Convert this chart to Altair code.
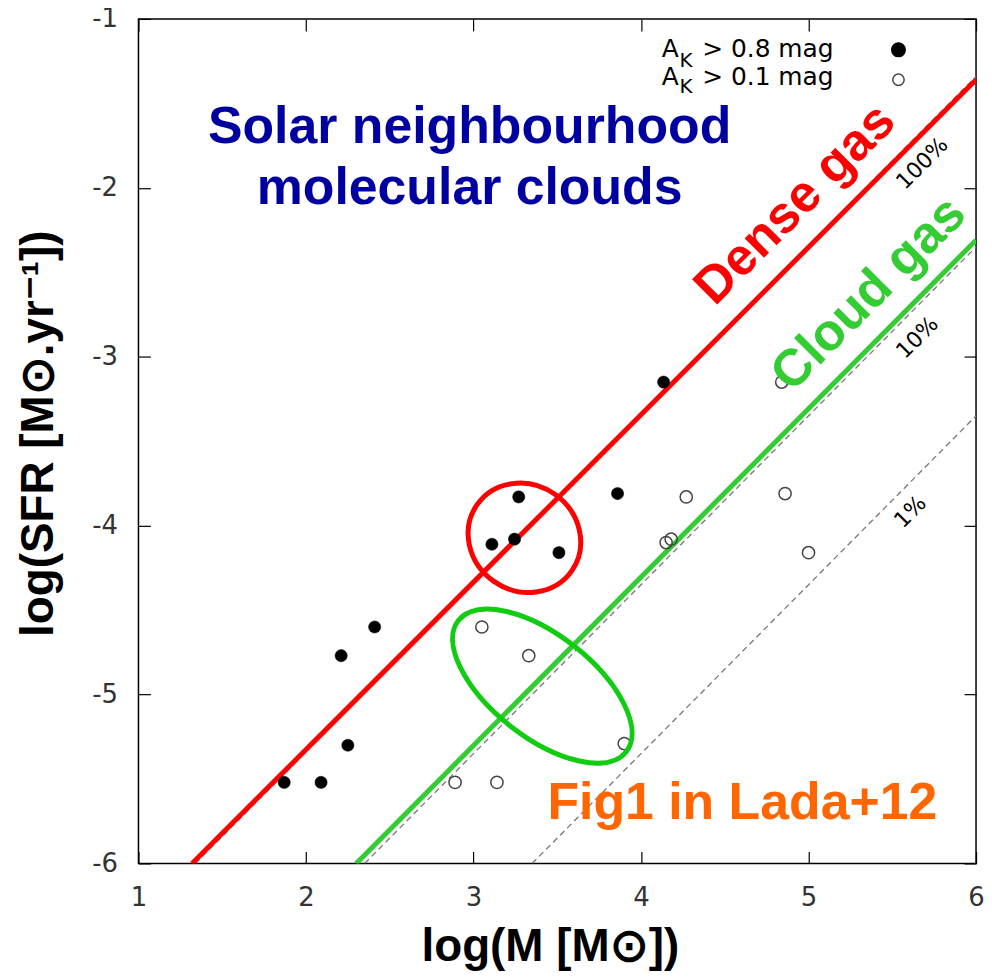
import altair as alt
import pandas as pd

# ---- data ----
filled_x = [1.87, 2.09, 2.25, 2.21, 2.41, 3.11, 3.245, 3.27, 3.51, 3.86, 4.135]
filled_y = [-5.52, -5.52, -5.30, -4.77, -4.60, -4.11, -4.08, -3.83, -4.16, -3.81, -3.15]
open_x = [2.89, 3.14, 3.05, 3.33, 3.90, 4.15, 4.18, 4.27, 4.84, 4.86, 5.00]
open_y = [-5.52, -5.52, -4.60, -4.77, -5.29, -4.10, -4.08, -3.83, -3.15, -3.81, -4.16]

dense_x, dense_y = [1.32, 6.0], [-6.0, -1.36]
cloud_x, cloud_y = [2.30, 6.0], [-6.0, -2.31]
eff100_x, eff100_y = [1.34, 6.0], [-6.0, -1.34]
eff10_x, eff10_y = [2.35, 6.0], [-6.0, -2.35]
eff1_x, eff1_y = [3.35, 6.0], [-6.0, -3.35]

x_ticks = [1, 2, 3, 4, 5, 6]
y_ticks = [-6, -5, -4, -3, -2, -1]

xs = alt.Scale(domain=[1, 6], nice=False, zero=False)
ys = alt.Scale(domain=[-6, -1], nice=False, zero=False)

common_axis = dict(tickSize=12, offset=-12, domain=False, grid=False,
                   tickColor="black", tickWidth=1.2,
                   labelFont="DejaVu Sans", labelFontSize=26, labelColor="#333333",
                   labelPadding=21, labelFlush=False, labelOverlap=False,
                   labelExpr="'' + datum.value",
                   titleFont="Liberation Sans", titleFontSize=46, titleFontWeight="bold",
                   titleColor="black", titleBaseline="alphabetic", titleAlign="center")

x_axis = alt.Axis(orient="bottom", values=x_ticks, title="log(M [M⊙])",
                  titleX=413, titleY=109, **common_axis)
y_axis = alt.Axis(orient="left", values=y_ticks, title="log(SFR [M⊙.yr⁻¹])",
                  titleAngle=270, titleX=-98, titleY=416, **common_axis)
x_axis_top = alt.Axis(orient="top", values=x_ticks, labels=False, title=None,
                      tickSize=12, offset=-12, domain=False, grid=False,
                      tickColor="black", tickWidth=1.2)
y_axis_right = alt.Axis(orient="right", values=y_ticks, labels=False, title=None,
                        tickSize=12, offset=-12, domain=False, grid=False,
                        tickColor="black", tickWidth=1.2)

X = alt.X("x:Q", scale=xs, axis=x_axis)
Y = alt.Y("y:Q", scale=ys, axis=y_axis)


def df(xv, yv, **extra):
    d = {"x": xv, "y": yv}
    d.update(extra)
    return pd.DataFrame(d)


def line(xv, yv, color, width, dash=None):
    kw = dict(color=color, strokeWidth=width, clip=True)
    if dash:
        kw["strokeDash"] = dash
    return alt.Chart(df(xv, yv)).mark_line(**kw).encode(x=X, y=Y)


def text(xv, yv, label, **kw):
    return alt.Chart(df([xv], [yv], t=[label])).mark_text(**kw).encode(x=X, y=Y, text="t:N")


l100 = line(eff100_x, eff100_y, "#777777", 1.3, [6, 4])
l10 = line(eff10_x, eff10_y, "#777777", 1.3, [6, 4])
l1 = line(eff1_x, eff1_y, "#777777", 1.3, [6, 4])
red = line(dense_x, dense_y, "#ff0000", 5)
green = line(cloud_x, cloud_y, "#33cc33", 5)

open_pts = alt.Chart(df(open_x, open_y)).mark_point(
    shape="circle", size=150, filled=False, stroke="#444444", strokeWidth=1.5, opacity=1
).encode(x=X, y=Y)
filled_pts = alt.Chart(df(filled_x, filled_y)).mark_point(
    shape="circle", size=150, filled=True, fill="black", stroke="black", strokeWidth=0.5, opacity=1
).encode(x=X, y=Y)

red_ell = alt.Chart(df([3.304], [-4.072])).mark_point(
    shape="M -1 0 A 1 0.92 0 1 1 1 0 A 1 0.92 0 1 1 -1 0 Z",
    size=13456, angle=35, filled=False, stroke="#ff0000", strokeWidth=5, opacity=1
).encode(x=X, y=Y)
green_ell = alt.Chart(df([3.411], [-4.950])).mark_point(
    shape="M -1 0 A 1 0.48 0 1 1 1 0 A 1 0.48 0 1 1 -1 0 Z",
    size=45796, angle=38, filled=False, stroke="#11cc11", strokeWidth=5, opacity=1
).encode(x=X, y=Y)

big = dict(font="Liberation Sans", fontWeight="bold", fontSize=52)
t_solar1 = text(2.977, -1.737, "Solar neighbourhood", color="#0000a0", align="center",
                baseline="alphabetic", **big)
t_solar2 = text(2.977, -2.097, "molecular clouds", color="#0000a0", align="center",
                baseline="alphabetic", **big)
t_dense = text(4.919, -2.097, "Dense gas", color="#ff0000", align="center",
               baseline="middle", angle=315, **big)
t_cloud = text(5.359, -2.627, "Cloud gas", color="#33cc33", align="center",
               baseline="middle", angle=315, **big)
t_fig = text(4.605, -5.735, "Fig1 in Lada+12", color="#ff6600", align="center",
             baseline="alphabetic", **big)

pct = dict(font="DejaVu Sans", fontSize=22, color="black", align="center",
           baseline="middle", angle=315)
t100 = text(5.679, -1.855, "100%", **pct)
t10 = text(5.650, -2.887, "10%", **pct)
t1 = text(5.608, -3.919, "1%", **pct)

leg = dict(font="DejaVu Sans", color="black", align="left", baseline="alphabetic")
legA1 = text(4.124, -1.224, "A", fontSize=25, **leg)
legK1 = text(4.230, -1.283, "K", fontSize=20, **leg)
legR1 = text(4.365, -1.224, "> 0.8 mag", fontSize=25, **leg)
legA2 = text(4.124, -1.389, "A", fontSize=25, **leg)
legK2 = text(4.230, -1.440, "K", fontSize=20, **leg)
legR2 = text(4.365, -1.389, "> 0.1 mag", fontSize=25, **leg)
leg_f = alt.Chart(df([5.537], [-1.183])).mark_point(
    shape="circle", size=170, filled=True, fill="black", stroke="black", opacity=1
).encode(x=X, y=Y)
leg_o = alt.Chart(df([5.537], [-1.360])).mark_point(
    shape="circle", size=130, filled=False, stroke="#444444", strokeWidth=1.5, opacity=1
).encode(x=X, y=Y)

main = alt.layer(
    l100, l10, l1, red, green, open_pts, filled_pts, red_ell, green_ell,
    t_solar1, t_solar2, t_dense, t_cloud, t_fig, t100, t10, t1,
    legA1, legK1, legR1, legA2, legK2, legR2, leg_f, leg_o,
)

frame_axes = alt.Chart(df(eff1_x, eff1_y)).mark_line(opacity=0).encode(
    x=alt.X("x:Q", scale=xs, axis=x_axis_top),
    y=alt.Y("y:Q", scale=ys, axis=y_axis_right),
)

chart = alt.layer(main, frame_axes).resolve_axis(x="independent", y="independent").properties(
    width=841, height=848,
    autosize=alt.AutoSizeParams(type="none"),
    padding={"left": 131, "top": 9, "right": 8, "bottom": 106},
    background="white",
).configure_view(stroke="black", strokeWidth=1.5)

chart.save("out.html", embed_options={"renderer": "svg", "actions": False})
